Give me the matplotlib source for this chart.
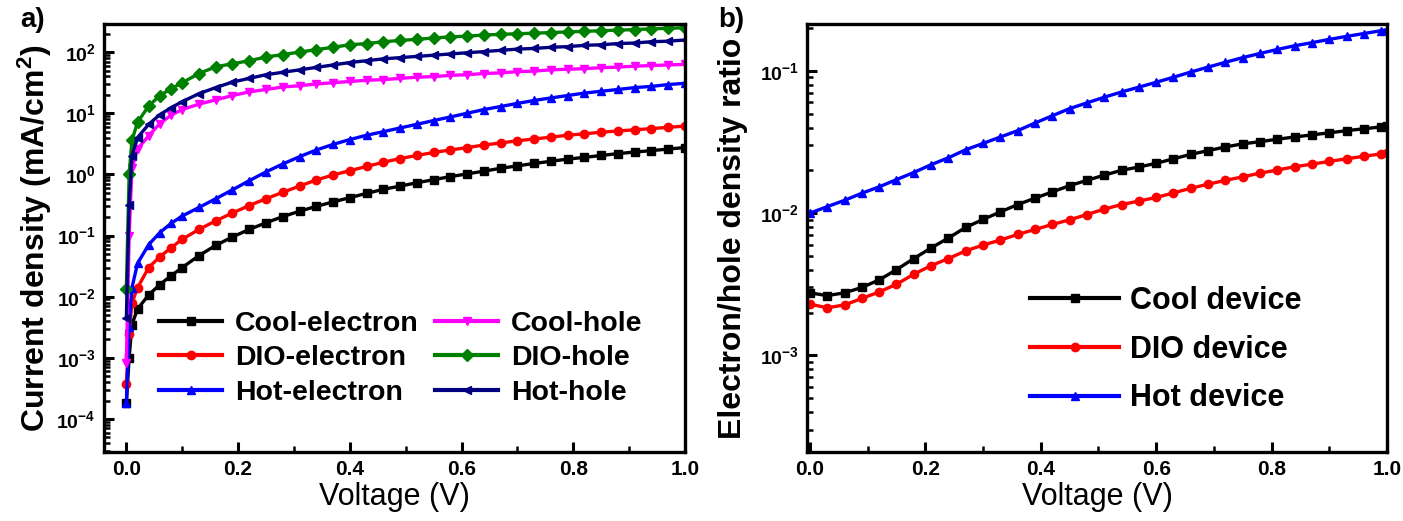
import matplotlib
matplotlib.use("Agg")
import matplotlib.pyplot as plt
from matplotlib.ticker import LogLocator, MultipleLocator, NullFormatter

plt.rcParams['font.family'] = ['Liberation Sans', 'DejaVu Sans']
plt.rcParams['mathtext.fontset'] = 'custom'
plt.rcParams['mathtext.rm'] = 'Liberation Sans'
plt.rcParams['mathtext.bf'] = 'Liberation Sans:bold'
plt.rcParams['mathtext.it'] = 'Liberation Sans:italic'

# ---------------- Panel a data ----------------
voltage_a = [0.0, 0.005, 0.01, 0.02, 0.04, 0.06, 0.08, 0.10, 0.13, 0.16, 0.19, 0.22,
             0.25, 0.28, 0.31, 0.34, 0.37, 0.40, 0.43, 0.46, 0.49, 0.52, 0.55, 0.58,
             0.61, 0.64, 0.67, 0.70, 0.73, 0.76, 0.79, 0.82, 0.85, 0.88, 0.91, 0.94,
             0.97, 1.00]

cool_electron = [1.8e-4, 1.0e-3, 3.5e-3, 6.3e-3, 0.0107, 0.0158, 0.022, 0.030, 0.047,
                 0.069, 0.095, 0.126, 0.162, 0.204, 0.25, 0.30, 0.355, 0.417, 0.49,
                 0.57, 0.645, 0.73, 0.82, 0.92, 1.02, 1.13, 1.26, 1.38, 1.51, 1.64,
                 1.78, 1.9, 2.04, 2.19, 2.32, 2.45, 2.6, 2.75]
dio_electron = [3.8e-4, 2.5e-3, 7.9e-3, 0.014, 0.030, 0.045, 0.063, 0.087, 0.126, 0.174,
                0.234, 0.31, 0.40, 0.51, 0.645, 0.81, 0.98, 1.15, 1.35, 1.58, 1.82,
                2.04, 2.29, 2.51, 2.75, 3.02, 3.27, 3.55, 3.8, 4.07, 4.37, 4.62, 4.9,
                5.13, 5.37, 5.62, 5.89, 6.17]
hot_electron = [1.8e-4, 3.2e-3, 0.014, 0.035, 0.071, 0.112, 0.158, 0.209, 0.288, 0.40,
                0.56, 0.79, 1.10, 1.48, 1.95, 2.51, 3.09, 3.72, 4.37, 5.0, 5.75, 6.6,
                7.6, 8.7, 10.0, 11.5, 12.9, 14.5, 16.2, 17.8, 19.5, 21.4, 22.9, 24.5,
                26.3, 27.5, 29.5, 30.9]
cool_hole = [8.3e-4, 0.1, 1.26, 2.6, 4.3, 6.8, 9.3, 11.5, 14.1, 16.6, 19.5, 22.4, 24.5,
             26.9, 28.2, 30.2, 31.6, 33.1, 34.7, 35.5, 37.2, 38.9, 39.8, 41.7, 42.7,
             44.7, 45.7, 47.9, 49.0, 51.3, 52.5, 53.7, 55.6, 56.9, 58.9, 60.3, 61.7,
             63.1]
dio_hole = [0.0135, 1.0, 3.6, 7.1, 13.2, 19.5, 25.1, 31.6, 44.7, 57.5, 64.6, 72.4, 83.2,
            91.2, 100, 110, 120, 132, 138, 148, 155, 162, 170, 178, 182, 191, 195, 200,
            204, 209, 214, 219, 224, 229, 234, 240, 245, 251]
hot_hole = [4.4e-3, 0.32, 2.0, 4.0, 6.6, 9.5, 12.3, 15.5, 20.9, 26.3, 32.4, 37.2, 42.7,
            46.8, 51.3, 56.2, 61.7, 67.6, 72.4, 77.6, 81.3, 85.1, 89.1, 93.3, 97.7, 102,
            107, 112, 115, 120, 123, 129, 132, 138, 141, 148, 151, 158]

labels_a = ['Cool-electron', 'DIO-electron', 'Hot-electron',
            'Cool-hole', 'DIO-hole', 'Hot-hole']
colors_a = ['black', '#ff0000', '#0000ff', '#ff00ff', '#008000', '#000080']
markers_a = ['s', 'o', '^', 'v', 'D', '<']

# ---------------- Panel b data ----------------
voltage_b = [0.00, 0.03, 0.06, 0.09, 0.12, 0.15, 0.18, 0.21, 0.24, 0.27, 0.30, 0.33,
             0.36, 0.39, 0.42, 0.45, 0.48, 0.51, 0.54, 0.57, 0.60, 0.63, 0.66, 0.69,
             0.72, 0.75, 0.78, 0.81, 0.84, 0.87, 0.90, 0.93, 0.96, 0.99, 1.00]
cool_ratio = [0.00275, 0.00263, 0.00275, 0.0030, 0.00339, 0.0040, 0.00479, 0.00569,
              0.00668, 0.00794, 0.00902, 0.0102, 0.01148, 0.01274, 0.0141, 0.0156,
              0.0170, 0.0185, 0.0200, 0.0211, 0.0224, 0.0241, 0.0259, 0.0275, 0.0292,
              0.0307, 0.0318, 0.0331, 0.0343, 0.0355, 0.0367, 0.0380, 0.0392, 0.0404,
              0.0407]
dio_ratio = [0.00229, 0.00216, 0.00226, 0.00251, 0.00279, 0.00316, 0.00372, 0.00427,
             0.00479, 0.00543, 0.00596, 0.00646, 0.00708, 0.00767, 0.00832, 0.00897,
             0.00977, 0.01067, 0.01148, 0.01216, 0.01288, 0.01387, 0.01496, 0.01596,
             0.0170, 0.0180, 0.0191, 0.0201, 0.0212, 0.0221, 0.0231, 0.0241, 0.0251,
             0.0261, 0.0263]
hot_ratio = [0.0100, 0.0111, 0.0123, 0.0138, 0.0153, 0.0172, 0.0193, 0.0219, 0.0245,
             0.0279, 0.0309, 0.0343, 0.0380, 0.043, 0.0484, 0.0543, 0.0596, 0.0653,
             0.0711, 0.0769, 0.0832, 0.0903, 0.0982, 0.1064, 0.115, 0.124, 0.1327,
             0.1416, 0.1503, 0.158, 0.1667, 0.175, 0.1832, 0.192, 0.195]

labels_b = ['Cool device', 'DIO device', 'Hot device']
colors_b = ['black', '#ff0000', '#0000ff']
markers_b = ['s', 'o', '^']

# ---------------- Figure ----------------
fig = plt.figure(figsize=(14.03, 5.21), dpi=100)
ax1 = fig.add_axes([104 / 1403, 1 - 452 / 521, (685 - 104) / 1403, (452 - 24) / 521])
ax2 = fig.add_axes([807 / 1403, 1 - 452 / 521, (1387 - 807) / 1403, (452 - 24) / 521])


def style_axis(ax):
    for sp in ax.spines.values():
        sp.set_linewidth(2.4)
    ax.tick_params(axis='both', which='both', direction='in', top=False, right=False)
    ax.tick_params(axis='both', which='major', length=7, width=2.2, labelsize=14, pad=6)
    ax.tick_params(axis='both', which='minor', length=4, width=1.8)
    ax.xaxis.set_minor_locator(MultipleLocator(0.1))
    ax.set_xticks([0.0, 0.2, 0.4, 0.6, 0.8, 1.0])
    ax.set_xticklabels(['0.0', '0.2', '0.4', '0.6', '0.8', '1.0'], fontweight='bold', fontsize=15)


series_a = [cool_electron, dio_electron, hot_electron, cool_hole, dio_hole, hot_hole]
for vals, lab, col, mk in zip(series_a, labels_a, colors_a, markers_a):
    ax1.plot(voltage_a, vals, color=col, marker=mk, markersize=6, lw=2.4, label=lab)
ax1.set_yscale('log')
ax1.set_xlim(-0.04, 1.0)
ax1.set_ylim(10 ** -4.54, 10 ** 2.46)
style_axis(ax1)
yt_a = [1e-4, 1e-3, 1e-2, 1e-1, 1e0, 1e1, 1e2]
ax1.set_yticks(yt_a)
ax1.set_yticklabels([r'$\mathbf{10^{%d}}$' % e for e in range(-4, 3)], fontsize=14)
ax1.yaxis.set_minor_locator(LogLocator(base=10, subs=range(2, 10), numticks=20))
ax1.yaxis.set_minor_formatter(NullFormatter())
ax1.set_xlabel('Voltage (V)', fontsize=22, labelpad=2)
ax1.set_ylabel('Current density (mA/cm$^{\\mathbf{2}}$)', fontsize=23, fontweight='bold', labelpad=2)
leg1 = ax1.legend(ncol=2, loc='lower left', bbox_to_anchor=(0.095, 0.108), frameon=False,
                  prop={'weight': 'bold', 'size': 20.5}, handlelength=2.2, handletextpad=0.45,
                  columnspacing=0.6, labelspacing=0.3, borderpad=0, borderaxespad=0)
for h in leg1.get_lines():
    h.set_linewidth(3)

series_b = [cool_ratio, dio_ratio, hot_ratio]
for vals, lab, col, mk in zip(series_b, labels_b, colors_b, markers_b):
    ax2.plot(voltage_b, vals, color=col, marker=mk, markersize=6, lw=2.4, label=lab)
ax2.set_yscale('log')
ax2.set_xlim(-0.005, 1.0)
ax2.set_ylim(10 ** -3.68, 10 ** -0.67)
style_axis(ax2)
ax2.set_yticks([1e-3, 1e-2, 1e-1])
ax2.set_yticklabels([r'$\mathbf{10^{-3}}$', r'$\mathbf{10^{-2}}$', r'$\mathbf{10^{-1}}$'], fontsize=14)
ax2.yaxis.set_minor_locator(LogLocator(base=10, subs=range(2, 10), numticks=20))
ax2.yaxis.set_minor_formatter(NullFormatter())
ax2.set_xlabel('Voltage (V)', fontsize=22, labelpad=2)
ax2.set_ylabel('Electron/hole density ratio', fontsize=23, fontweight='bold', labelpad=8)
leg2 = ax2.legend(loc='lower left', bbox_to_anchor=(0.385, 0.09), frameon=False,
                  prop={'weight': 'bold', 'size': 22}, handlelength=2.9, handletextpad=0.35,
                  labelspacing=0.62, borderpad=0, borderaxespad=0)
for h in leg2.get_lines():
    h.set_linewidth(3)

fig.text(20 / 1403, 1 - 20 / 521, 'a)', fontsize=20, fontweight='bold', va='center', ha='left')
fig.text(718 / 1403, 1 - 20 / 521, 'b)', fontsize=20, fontweight='bold', va='center', ha='left')

fig.savefig('out.png', dpi=100)
